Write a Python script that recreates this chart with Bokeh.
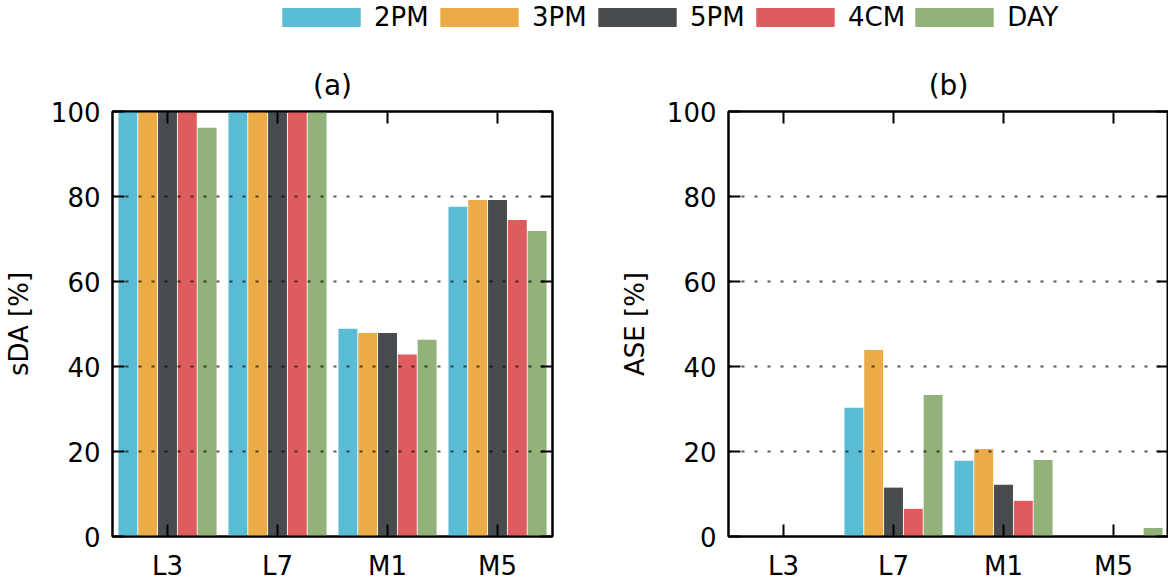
from bokeh.plotting import figure
from bokeh.models import (FactorRange, Range1d, LinearAxis, CategoricalAxis,
                          SingleIntervalTicker, FixedTicker, Legend, LegendItem,
                          ColumnDataSource)
from bokeh.transform import dodge
from bokeh.layouts import column, row
from bokeh.embed import file_html
from bokeh.resources import INLINE

categories = ["L3", "L7", "M1", "M5"]
series = ["2PM", "3PM", "5PM", "4CM", "DAY"]
colors = ["#5BBCD6", "#EBAB47", "#484C4F", "#DE5B5E", "#92B27A"]

sda_2pm = [100, 100, 48.9, 77.6]
sda_3pm = [100, 100, 47.9, 79.2]
sda_5pm = [100, 100, 47.9, 79.2]
sda_4cm = [100, 100, 42.8, 74.5]
sda_day = [96.2, 100, 46.3, 71.9]

ase_2pm = [0, 30.3, 17.8, 0]
ase_3pm = [0, 43.9, 20.6, 0]
ase_5pm = [0, 11.5, 12.2, 0]
ase_4cm = [0, 6.5, 8.4, 0]
ase_day = [0, 33.3, 18.0, 2.0]

FONT = "DejaVu Sans"
offsets = [-0.36, -0.18, 0.0, 0.18, 0.36]


def style_axis(ax, show_labels, standoff):
    ax.axis_line_color = "black"
    ax.axis_line_width = 2
    ax.major_tick_in = 12
    ax.major_tick_out = 0
    ax.major_tick_line_width = 2
    ax.major_tick_line_color = "black"
    ax.minor_tick_line_color = None
    ax.major_label_text_font = FONT
    ax.major_label_standoff = standoff
    if show_labels:
        ax.major_label_text_font_size = "26px"
        ax.major_label_text_color = "black"
    else:
        ax.major_label_text_font_size = "0px"
        ax.major_label_text_color = None
        ax.major_label_standoff = 0


def make_panel(title, ylabel, values, left_border, right_border):
    p = figure(x_range=FactorRange(*categories, range_padding=0),
               y_range=Range1d(0, 100),
               frame_width=440, frame_height=425,
               min_border_left=left_border, min_border_right=right_border,
               min_border_top=71, min_border_bottom=43,
               output_backend="svg", toolbar_location=None,
               title=title, background_fill_color="white",
               border_fill_color="white")
    p.outline_line_color = "black"
    p.outline_line_width = 2
    p.title.text_font = FONT
    p.title.text_font_size = "28px"
    p.title.text_font_style = "normal"
    p.title.text_color = "black"
    p.title.align = "center"
    p.title.standoff = 20

    data = {"cat": categories}
    for s, v in zip(series, values):
        data[s] = v
    src = ColumnDataSource(data)
    for s, c, off in zip(series, colors, offsets):
        p.vbar(x=dodge("cat", off, range=p.x_range), top=s, bottom=0,
               width=0.172, source=src, fill_color=c, line_color=None)

    p.yaxis.ticker = SingleIntervalTicker(interval=20, num_minor_ticks=0)
    p.yaxis.axis_label = ylabel
    p.yaxis.axis_label_text_font = FONT
    p.yaxis.axis_label_text_font_size = "26px"
    p.yaxis.axis_label_text_font_style = "normal"
    p.yaxis.axis_label_text_color = "black"
    p.yaxis.axis_label_standoff = 14
    style_axis(p.yaxis[0], True, 12)
    style_axis(p.xaxis[0], True, 14)

    top_ax = CategoricalAxis()
    style_axis(top_ax, False, 0)
    p.add_layout(top_ax, "above")
    right_ax = LinearAxis(ticker=SingleIntervalTicker(interval=20, num_minor_ticks=0))
    style_axis(right_ax, False, 0)
    p.add_layout(right_ax, "right")

    p.xgrid.grid_line_color = None
    p.ygrid.ticker = FixedTicker(ticks=[20, 40, 60, 80])
    p.ygrid.grid_line_color = "black"
    p.ygrid.grid_line_alpha = 0.65
    p.ygrid.grid_line_width = 2
    p.ygrid.grid_line_dash = "3 10"
    p.ygrid.level = "annotation"
    return p


pa = make_panel("(a)", "sDA [%]", [sda_2pm, sda_3pm, sda_5pm, sda_4cm, sda_day], 112, 56)
pb = make_panel("(b)", "ASE [%]", [ase_2pm, ase_3pm, ase_5pm, ase_4cm, ase_day], 120, 0)

# legend strip: zero-height bars, one per series, only used as legend glyphs
leg = figure(width=1168, height=40, min_border=0, x_range=FactorRange(*series),
             y_range=Range1d(0, 1), x_axis_location=None, y_axis_location=None,
             output_backend="svg", toolbar_location=None)
leg.outline_line_color = None
leg.grid.visible = False
leg_src = ColumnDataSource(dict(s=series, c=colors, z=[0] * len(series)))
r = leg.vbar(x="s", top="z", bottom="z", width=0.5, fill_color="c",
             line_color=None, source=leg_src)
items = [LegendItem(label=s, renderers=[r], index=i) for i, s in enumerate(series)]
legend = Legend(items=items, orientation="horizontal", location=(272, 8),
                glyph_width=98, glyph_height=24, label_standoff=4,
                label_width=56, spacing=0, padding=0, margin=0,
                label_text_font=FONT, label_text_font_size="26px",
                label_text_color="black",
                border_line_color=None, background_fill_alpha=0)
leg.add_layout(legend, "center")

layout = column(leg, row(pa, pb, spacing=0), spacing=0)
open("out.html", "w").write(file_html(layout, INLINE))
